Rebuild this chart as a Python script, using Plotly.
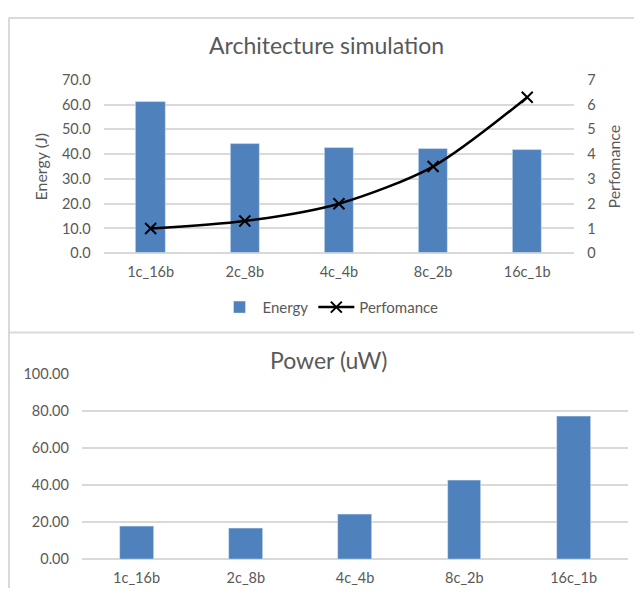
import plotly.graph_objects as go

categories = ["1c_16b", "2c_8b", "4c_4b", "8c_2b", "16c_1b"]
energy = [61.0, 44.0, 42.6, 42.3, 41.9]
performance = [1.0, 1.3, 2.0, 3.5, 6.3]
power = [17.5, 16.8, 24.3, 42.7, 77.2]

PAGE_W, PAGE_H = 642, 604
BODY_MARGIN = 8
W, H = PAGE_W - 2 * BODY_MARGIN, PAGE_H - 2 * BODY_MARGIN
FONT = "Lato"
GRAY = "#595959"
GRID = "#d9d9d9"
BLUE = "#4F81BD"

def px(x):
    return (x - BODY_MARGIN) / W

def py(y):
    return 1 - (y - BODY_MARGIN) / H

fig = go.Figure()

fig.add_trace(go.Bar(x=categories, y=energy, name="Energy", marker_color=BLUE,
                     width=0.31, xaxis="x", yaxis="y"))
fig.add_trace(go.Scatter(x=categories, y=performance, name="Perfomance", mode="lines+markers",
                         line=dict(color="black", width=2.5, shape="spline", smoothing=0.8),
                         marker=dict(symbol="x-thin", size=11, line=dict(color="black", width=2)),
                         xaxis="x", yaxis="y2"))
fig.add_trace(go.Bar(x=categories, y=power, name="Power", marker_color=BLUE, width=0.31,
                     xaxis="x3", yaxis="y3", showlegend=False))

tickfont = dict(family=FONT, size=14.5, color=GRAY)

fig.update_layout(
    width=W, height=H, autosize=False,
    margin=dict(l=0, r=0, t=0, b=0),
    paper_bgcolor="white", plot_bgcolor="white",
    font=dict(family=FONT, color=GRAY),
    xaxis=dict(domain=[px(103.6), px(574.3)], anchor="y", showgrid=False, showline=False,
               tickfont=tickfont, ticks="", ticklabelstandoff=8),
    yaxis=dict(domain=[py(251.3), py(72.7)], anchor="x", range=[0, 70], dtick=10,
               tickformat=".1f", showgrid=True, gridcolor=GRID, gridwidth=1.5,
               zeroline=True, zerolinecolor=GRID, zerolinewidth=1.5,
               tickfont=tickfont, ticks="", ticklabelstandoff=12),
    yaxis2=dict(overlaying="y", side="right", anchor="x", range=[0, 7], dtick=1,
                showgrid=False, zeroline=False, tickfont=tickfont, ticks="", ticklabelstandoff=12),
    xaxis3=dict(domain=[px(81.9), px(628.3)], anchor="y3", showgrid=False, showline=False,
                tickfont=tickfont, ticks="", ticklabelstandoff=8),
    yaxis3=dict(domain=[py(566.3), py(376)], anchor="x3", range=[0, 100], dtick=20,
                tickformat=".2f", showgrid=True, gridcolor=GRID, gridwidth=1.5,
                zeroline=True, zerolinecolor=GRID, zerolinewidth=1.5,
                tickfont=tickfont, ticks="", ticklabelstandoff=12),
    legend=dict(orientation="h", x=px(330), xanchor="center", y=py(307), yanchor="middle",
                font=dict(family=FONT, size=15, color=GRAY), bgcolor="rgba(0,0,0,0)",
                itemwidth=36),
    showlegend=True,
    bargap=0.0,
)

annotations = [
    dict(text="Architecture simulation", x=px(326), y=py(37), font=dict(family=FONT, size=23, color=GRAY)),
    dict(text="Power (uW)", x=px(328), y=py(361), font=dict(family=FONT, size=23, color=GRAY)),
    dict(text="Energy (J)", x=px(41), y=py(162), textangle=-90, font=dict(family=FONT, size=16, color=GRAY)),
    dict(text="Perfomance", x=px(614), y=py(162), textangle=-90, font=dict(family=FONT, size=16, color=GRAY)),
]
for a in annotations:
    a.update(xref="paper", yref="paper", xanchor="center", yanchor="middle", showarrow=False)
fig.update_layout(annotations=annotations)

shapes = [
    dict(type="line", x0=px(8.5), x1=1, y0=py(9), y1=py(9)),
    dict(type="line", x0=px(9), x1=px(9), y0=py(9), y1=0),
    dict(type="line", x0=px(9), x1=1, y0=py(333), y1=py(333)),
]
for s in shapes:
    s.update(xref="paper", yref="paper", line=dict(color=GRID, width=2))
fig.update_layout(shapes=shapes)

fig.write_html("out.html", config={"displayModeBar": False})
